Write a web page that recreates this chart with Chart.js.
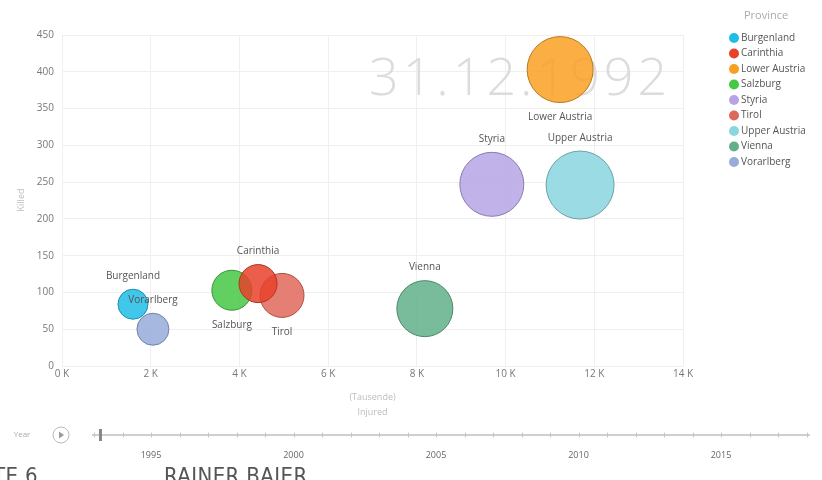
<!DOCTYPE html>
<html>
<head>
<meta charset="utf-8">
<script src="https://cdn.jsdelivr.net/npm/chart.js@4.4.1/dist/chart.umd.min.js"></script>
<style>
  html, body { margin: 0; padding: 0; background: #fff; }
  #wrap { position: relative; width: 822px; height: 480px; overflow: hidden; }
  #chart { position: absolute; left: 0; top: 0; }
  .foot {
    position: absolute; top: 465px; line-height: 22px;
    font-family: "Liberation Sans Narrow", "DejaVu Sans Condensed", sans-serif;
    font-size: 22px; color: #555; letter-spacing: 0.4px;
  }
</style>
</head>
<body>
<div id="wrap">
  <canvas id="chart" width="822" height="480"></canvas>
  <div class="foot" style="left:-7px">TE 6</div>
  <div class="foot" style="left:164px">RAINER BAIER</div>
</div>
<script>
const provinces = ["Burgenland", "Carinthia", "Lower Austria", "Salzburg", "Styria", "Tirol", "Upper Austria", "Vienna", "Vorarlberg"];
const injured = [1600, 4420, 11230, 3830, 9690, 4960, 11680, 8180, 2050];
const killed = [84, 112, 403, 103, 247, 96, 246, 78, 50];
const bubbleSize = [15, 19, 33, 20, 32, 22, 34, 28, 16];
const colors = ["#1fbde6", "#e8422c", "#f9a023", "#45c845", "#b7a4e6", "#e0685a", "#8ad6df", "#62b08a", "#97acd9"];
const labelPlacement = ["above", "above", "below", "below", "above", "below", "above", "above", "above"];

const xTicks = [0, 2000, 4000, 6000, 8000, 10000, 12000, 14000];
const yTicks = [0, 50, 100, 150, 200, 250, 300, 350, 400, 450];
const years = [1995, 2000, 2005, 2010, 2015];
const currentDate = "31.12.1992";
const currentYear = 1993.2;

const FONT = '"Open Sans", "Noto Sans", sans-serif';

function hexA(hex, a) {
  const n = parseInt(hex.slice(1), 16);
  return `rgba(${(n >> 16) & 255}, ${(n >> 8) & 255}, ${n & 255}, ${a})`;
}
function darker(hex) {
  const n = parseInt(hex.slice(1), 16);
  const f = 0.75;
  return `rgb(${Math.round(((n >> 16) & 255) * f)}, ${Math.round(((n >> 8) & 255) * f)}, ${Math.round((n & 255) * f)})`;
}

const datasets = provinces.map((name, i) => ({
  label: name,
  data: [{ x: injured[i], y: killed[i], r: bubbleSize[i] }],
  backgroundColor: hexA(colors[i], 0.85),
  borderColor: darker(colors[i]),
  borderWidth: 1,
  clip: false,
}));

// big date watermark behind the bubbles
const watermark = {
  id: "watermark",
  beforeDatasetsDraw(chart) {
    const ctx = chart.ctx;
    ctx.save();
    ctx.font = `300 52px ${FONT}`;
    ctx.letterSpacing = "4px";
    ctx.fillStyle = "#dcdcdc";
    ctx.textAlign = "left";
    ctx.textBaseline = "alphabetic";
    ctx.fillText(currentDate, 369, 95);
    ctx.restore();
  },
};

// province name next to each bubble
const bubbleLabels = {
  id: "bubbleLabels",
  afterDatasetsDraw(chart) {
    const ctx = chart.ctx;
    ctx.save();
    ctx.font = `10px ${FONT}`;
    ctx.fillStyle = "#555";
    ctx.textAlign = "center";
    ctx.textBaseline = "middle";
    chart.data.datasets.forEach((ds, i) => {
      const el = chart.getDatasetMeta(i).data[0];
      const r = el.options.radius;
      const y = labelPlacement[i] === "below" ? el.y + r + 15 : el.y - r - 13;
      ctx.fillText(ds.label, el.x, y);
    });
    ctx.restore();
  },
};

// legend, axis titles and the play axis
const extras = {
  id: "extras",
  afterDraw(chart) {
    const ctx = chart.ctx;
    const area = chart.chartArea;
    ctx.save();

    // legend
    ctx.textBaseline = "middle";
    ctx.textAlign = "center";
    ctx.font = `11px ${FONT}`;
    ctx.fillStyle = "#aaa";
    ctx.fillText("Province", 766, 16);
    ctx.textAlign = "left";
    ctx.font = `10px ${FONT}`;
    chart.data.datasets.forEach((ds, i) => {
      const y = 38 + i * 15.5;
      ctx.beginPath();
      ctx.arc(734, y, 5, 0, Math.PI * 2);
      ctx.fillStyle = colors[i];
      ctx.fill();
      ctx.fillStyle = "#555";
      ctx.fillText(ds.label, 741, y);
    });

    // axis titles
    ctx.fillStyle = "#bdbdbd";
    ctx.font = `9px ${FONT}`;
    ctx.textAlign = "center";
    const cx = (area.left + area.right) / 2;
    ctx.fillText("(Tausende)", cx, 397);
    ctx.fillText("Injured", cx, 412);
    ctx.save();
    ctx.translate(21, 200);
    ctx.rotate(-Math.PI / 2);
    ctx.fillText("Killed", 0, 0);
    ctx.restore();

    // play axis
    const yOf = (yr) => 151 + (yr - years[0]) * 28.5;
    const lineY = 435;
    ctx.fillStyle = "#aaa";
    ctx.font = `8px ${FONT}`;
    ctx.fillText("Year", 22, lineY);
    ctx.beginPath();
    ctx.arc(61, lineY, 8, 0, Math.PI * 2);
    ctx.strokeStyle = "#bbb";
    ctx.lineWidth = 1;
    ctx.stroke();
    ctx.beginPath();
    ctx.moveTo(59, lineY - 3.5);
    ctx.lineTo(64, lineY);
    ctx.lineTo(59, lineY + 3.5);
    ctx.closePath();
    ctx.fillStyle = "#999";
    ctx.fill();

    ctx.strokeStyle = "#cfcfcf";
    ctx.lineWidth = 2;
    ctx.beginPath();
    ctx.moveTo(92, lineY);
    ctx.lineTo(810, lineY);
    ctx.stroke();
    ctx.lineWidth = 1;
    ctx.strokeStyle = "#c4c4c4";
    for (let yr = 1993; yr <= 2018; yr++) {
      const x = Math.round(yOf(yr)) + 0.5;
      ctx.beginPath();
      ctx.moveTo(x, lineY - 2.5);
      ctx.lineTo(x, lineY + 2.5);
      ctx.stroke();
    }
    ctx.fillStyle = "#888";
    ctx.fillRect(Math.round(yOf(currentYear)) - 1, lineY - 6, 3, 12);

    ctx.fillStyle = "#666";
    ctx.font = `9px ${FONT}`;
    years.forEach((yr) => ctx.fillText(String(yr), yOf(yr), 455));

    ctx.restore();
  },
};

new Chart(document.getElementById("chart").getContext("2d"), {
  type: "bubble",
  data: { datasets },
  plugins: [watermark, bubbleLabels, extras],
  options: {
    responsive: false,
    animation: false,
    layout: { padding: { top: 22, right: 139, left: 0, bottom: 0 } },
    plugins: { legend: { display: false }, tooltip: { enabled: false } },
    scales: {
      x: {
        type: "linear",
        min: xTicks[0],
        max: xTicks[xTicks.length - 1],
        afterBuildTicks: (s) => { s.ticks = xTicks.map((v) => ({ value: v })); },
        afterFit: (s) => { s.height = 114; },
        ticks: {
          callback: (v) => v / 1000 + " K",
          color: "#777",
          font: { family: FONT, size: 10 },
          padding: 2,
        },
        grid: { color: "#efefef", drawTicks: false },
        border: { display: false },
      },
      y: {
        min: yTicks[0],
        max: yTicks[yTicks.length - 1],
        afterBuildTicks: (s) => { s.ticks = yTicks.map((v) => ({ value: v })); },
        afterFit: (s) => { s.width = 62; },
        ticks: {
          color: "#777",
          font: { family: FONT, size: 10 },
          padding: 8,
        },
        grid: { color: "#efefef", drawTicks: false },
        border: { display: false },
      },
    },
  },
});
</script>
</body>
</html>
